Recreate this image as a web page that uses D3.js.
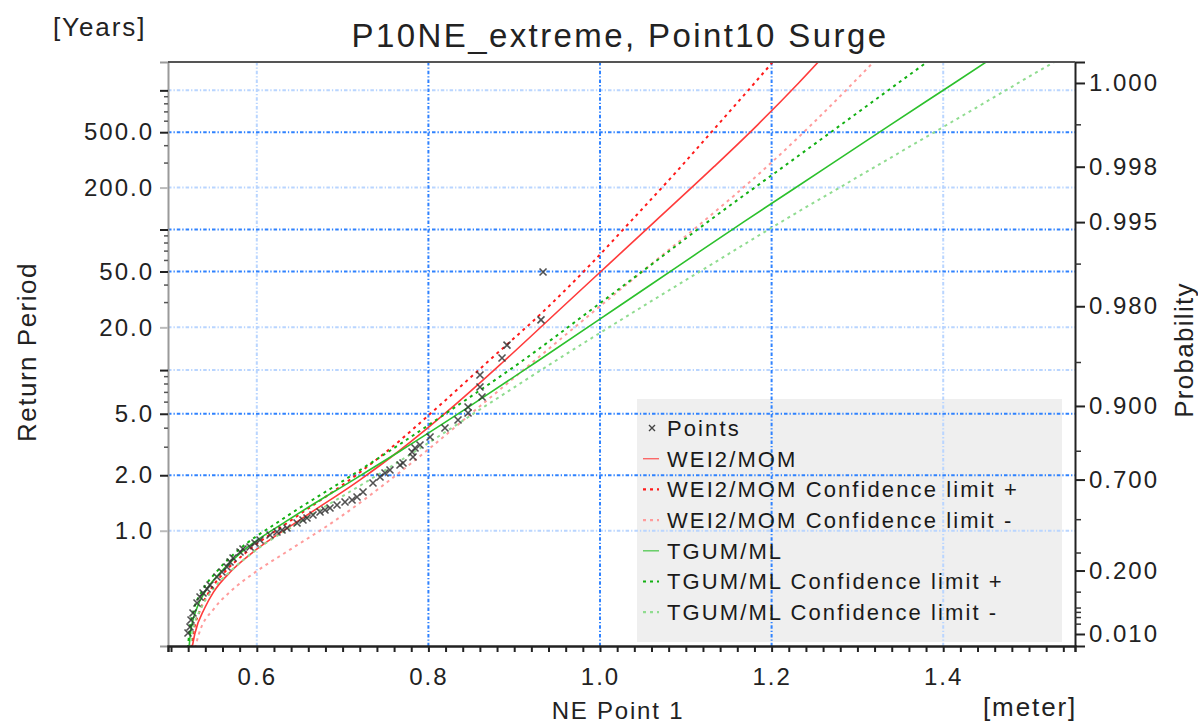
<!DOCTYPE html>
<html><head><meta charset="utf-8">
<script src="https://cdn.jsdelivr.net/npm/d3@7"></script>
<style>
html,body{margin:0;padding:0;background:#fff;}
svg{display:block;font-family:"Liberation Sans",Arial,sans-serif;}
</style></head><body>
<svg id="chart" width="1198" height="726"></svg>
<script>
// ---------------- DATA ----------------
const EVENTS_PER_YEAR = 1.77;
// non-exceedance probability levels at which the fitted curves are read
const probLevels = [0.003,0.01,0.05,0.1,0.2,0.3,0.5,0.7,0.8,0.9,0.95,0.98,0.99,0.995,0.998,0.999,0.9995,0.9998];
// x (meter) of each fitted curve at the probability levels above
const wei2Mom      = [0.5245,0.5277,0.5393,0.5495,0.5709,0.5943,0.6506,0.7207,0.7654,0.8296,0.8864,0.9572,1.0103,1.0632,1.1329,1.1837,1.2315,1.2909];
const wei2MomPlus  = [0.5233,0.5258,0.5349,0.5442,0.5642,0.5867,0.6410,0.7087,0.7517,0.8124,0.8682,0.9403,0.9894,1.0350,1.0943,1.1373,1.1802,1.2357];
const wei2MomMinus = [0.5280,0.5325,0.5507,0.5684,0.6010,0.6326,0.6928,0.7558,0.7972,0.8604,0.9212,1.0000,1.0599,1.1196,1.1945,1.2463,1.2950,1.3570];
const tgumMl       = [0.5210,0.5226,0.5302,0.5395,0.5596,0.5810,0.6373,0.7131,0.7667,0.8488,0.9249,1.0220,1.0946,1.1671,1.2650,1.3385,1.4130,1.5108];
const tgumMlPlus   = [0.5198,0.5211,0.5272,0.5355,0.5543,0.5747,0.6290,0.7029,0.7542,0.8332,0.9068,0.9953,1.0606,1.1252,1.2138,1.2808,1.3476,1.4361];
const tgumMlMinus  = [0.5221,0.5246,0.5352,0.5464,0.5702,0.5946,0.6548,0.7319,0.7848,0.8665,0.9451,1.0501,1.1305,1.2108,1.3209,1.4043,1.4875,1.5983];
// observed points: x (meter) and plotting probability
const pointX = [0.9336,0.9312,0.8916,0.8858,0.8601,0.8601,0.8625,0.8462,0.8462,0.8345,0.8019,0.7844,0.7809,0.7821,0.7704,0.7669,0.7436,0.7354,0.7238,0.7110,0.6935,0.6853,0.6655,0.6585,0.6469,0.6352,0.6235,0.6154,0.6037,0.5921,0.5804,0.5723,0.5653,0.5536,0.5455,0.5373,0.5303,0.5256,0.5221,0.5198,0.6737,0.7028,0.7552,0.5839,0.5594,0.5338,0.5979,0.6294,0.6538,0.6795,0.7168,0.7494,0.7902,0.8193,0.5688,0.5420,0.5233];
const pointP = [0.9886,0.9750,0.9623,0.9535,0.9388,0.9259,0.9132,0.8983,0.8883,0.8755,0.8384,0.8095,0.7977,0.7824,0.7626,0.7556,0.7105,0.6855,0.6452,0.6063,0.5807,0.5649,0.5265,0.5095,0.4808,0.4513,0.4273,0.4092,0.3789,0.3363,0.3061,0.2705,0.2192,0.1667,0.1293,0.0968,0.0636,0.0387,0.0166,0.0108,0.5431,0.5962,0.7375,0.3241,0.1922,0.0825,0.3606,0.4394,0.4981,0.5540,0.6212,0.7262,0.8177,0.8592,0.2473,0.1124,0.0259];
// axis ticks
const rpTicks      = [1,2,5,10,20,50,100,200,500,1000];
const rpTickLabels = ["1.0","2.0","5.0","","20.0","50.0","","200.0","500.0",""];
const rpMinorTicks = [3,4,6,7,8,9,30,40,60,70,80,90,300,400,600,700,800,900];
const rpGridStrong = [2,5,50,100,500];
const rpGridFaint  = [1,10,20,200,1000];
const rpTickFaint  = [1,20,200];
const probTicks      = [0.01,0.2,0.7,0.9,0.98,0.995,0.998,0.9995];
const probTickLabels = ["0.010","0.200","0.700","0.900","0.980","0.995","0.998","1.000"];
const probMinorTicks = [0.02,0.03,0.04,0.05,0.1,0.3,0.5,0.8,0.95,0.99,0.999];
const xMajorTicks  = [0.6,0.8,1.0,1.2,1.4];
const xGridStrong  = [0.8,1.0,1.2];
const xGridFaint   = [0.6,1.4];
const seriesNames = ["WEI2/MOM","WEI2/MOM Confidence limit +","WEI2/MOM Confidence limit -","TGUM/ML","TGUM/ML Confidence limit +","TGUM/ML Confidence limit -"];
const seriesValues = [wei2Mom,wei2MomPlus,wei2MomMinus,tgumMl,tgumMlPlus,tgumMlMinus];

// ---------------- CHART ----------------
const svg = d3.select("#chart");
const L=168,R=1075,T=62,B=646;
const gumbel = p => -Math.log(-Math.log(p));
const rpToP = t => 1 - 1/(EVENTS_PER_YEAR*t);
const x = d3.scaleLinear().domain([0.4965,1.5536]).range([L,R]);
const y = d3.scaleLinear().domain([-1.726,7.948]).range([B,T]);
const yP = p => y(gumbel(p));
const yRP = t => y(gumbel(rpToP(t)));

const styles = [
  {stroke:"#ff3b3b", w:1.6, dash:null},
  {stroke:"#ff1a1a", w:2, dash:"3,4"},
  {stroke:"#ff9c9c", w:2, dash:"3,4"},
  {stroke:"#2cc02c", w:1.6, dash:null},
  {stroke:"#12b012", w:2, dash:"3,4"},
  {stroke:"#90dc90", w:2, dash:"3,4"}
];

svg.append("defs").append("clipPath").attr("id","clip")
  .append("rect").attr("x",L).attr("y",T).attr("width",R-L).attr("height",B-T);

// legend background (grid is drawn over it)
const legX=637, legY=399, legW=425, legH=243;
svg.append("rect").attr("x",legX).attr("y",legY).attr("width",legW).attr("height",legH).attr("fill","#efefef");

// grid
const grid = svg.append("g");
const gridDash = "3.5,2,1.3,2";
const strong = "#2f82ff", faint = "#b9d5ff";
function hgrid(vals, col){
  grid.selectAll(null).data(vals).join("line")
   .attr("x1",L).attr("x2",R).attr("y1",d=>yRP(d)).attr("y2",d=>yRP(d))
   .attr("stroke",col).attr("stroke-width",2).attr("stroke-dasharray",gridDash);
}
function vgrid(vals, col){
  grid.selectAll(null).data(vals).join("line")
   .attr("y1",T).attr("y2",B).attr("x1",d=>x(d)).attr("x2",d=>x(d))
   .attr("stroke",col).attr("stroke-width",2).attr("stroke-dasharray",gridDash);
}
hgrid(rpGridFaint, faint); vgrid(xGridFaint, faint);
hgrid(rpGridStrong, strong); vgrid(xGridStrong, strong);

// curves
const plot = svg.append("g").attr("clip-path","url(#clip)");
const line = d3.line().x(d=>x(d[0])).y(d=>yP(d[1])).curve(d3.curveMonotoneX);
seriesValues.forEach((vals,i)=>{
  const pts = vals.map((v,j)=>[v,probLevels[j]]);
  plot.append("path").datum(pts).attr("d",line).attr("fill","none")
    .attr("stroke",styles[i].stroke).attr("stroke-width",styles[i].w)
    .attr("stroke-dasharray",styles[i].dash);
});
// points
const xs = 3.5;
plot.selectAll(".pt").data(pointX.map((v,i)=>[v,pointP[i]])).join("path")
  .attr("class","pt")
  .attr("d",d=>{const cx=x(d[0]),cy=yP(d[1]);return `M${cx-xs},${cy-xs}L${cx+xs},${cy+xs}M${cx-xs},${cy+xs}L${cx+xs},${cy-xs}`;})
  .attr("stroke","#333").attr("stroke-width",1.6).attr("fill","none").attr("opacity",0.85);

// axes
const tickFont = {size:"24px", ls:"2px"};
// left
const gl = svg.append("g").attr("transform",`translate(${L},0)`)
  .call(d3.axisLeft(y).tickValues(rpTicks.map(t=>gumbel(rpToP(t))))
    .tickFormat((d,i)=>rpTickLabels[i]).tickSize(8).tickPadding(6));
gl.select(".domain").attr("stroke","#9a9a9a").attr("stroke-width",2);
gl.selectAll(".tick line").attr("stroke",(d,i)=>rpTickFaint.includes(rpTicks[i]) ? "#bbbbbb":"#222").attr("stroke-width",2);
gl.selectAll("text").attr("font-size",tickFont.size).attr("letter-spacing",tickFont.ls).attr("fill","#222").attr("font-family","Liberation Sans, Arial, sans-serif");
svg.append("g").selectAll("line").data(rpMinorTicks).join("line")
  .attr("x1",L-4).attr("x2",L).attr("y1",d=>yRP(d)).attr("y2",d=>yRP(d))
  .attr("stroke","#555").attr("stroke-width",1.5);

// right
const gr = svg.append("g").attr("transform",`translate(${R},0)`)
  .call(d3.axisRight(y).tickValues(probTicks.map(gumbel))
    .tickFormat((d,i)=>probTickLabels[i]).tickSize(10).tickPadding(4));
gr.select(".domain").attr("stroke","#222").attr("stroke-width",2);
gr.selectAll(".tick line").attr("stroke","#222").attr("stroke-width",2);
gr.selectAll("text").attr("font-size",tickFont.size).attr("letter-spacing",tickFont.ls).attr("fill","#222").attr("font-family","Liberation Sans, Arial, sans-serif");
svg.append("g").selectAll("line").data(probMinorTicks).join("line")
  .attr("x1",R).attr("x2",R+6).attr("y1",d=>yP(d)).attr("y2",d=>yP(d))
  .attr("stroke","#333").attr("stroke-width",1.5);

// bottom
const gb = svg.append("g").attr("transform",`translate(0,${B})`)
  .call(d3.axisBottom(x).tickValues(d3.range(0.50,1.5401,0.02))
    .tickFormat(d=>{const m=xMajorTicks.find(v=>Math.abs(v-d)<1e-6);return m!==undefined?d3.format(".1f")(m):"";})
    .tickSize(6).tickPadding(16));
gb.select(".domain").attr("stroke","#222").attr("stroke-width",2.5);
gb.selectAll(".tick line").attr("stroke","#222").attr("stroke-width",2);
gb.selectAll("text").attr("font-size",tickFont.size).attr("letter-spacing",tickFont.ls).attr("fill","#222").attr("font-family","Liberation Sans, Arial, sans-serif");

// top frame
svg.append("line").attr("x1",L).attr("x2",R).attr("y1",T).attr("y2",T).attr("stroke","#555").attr("stroke-width",2);

// legend content
const leg = svg.append("g").attr("font-size","22px").attr("letter-spacing","2.1px").attr("fill","#1a1a1a");
const rowY = i => 428 + i*30.7;
leg.append("path").attr("d",`M${649},${rowY(0)-3}L${655},${rowY(0)+3}M${649},${rowY(0)+3}L${655},${rowY(0)-3}`)
  .attr("stroke","#444").attr("stroke-width",1.4);
leg.append("text").attr("x",667).attr("y",rowY(0)).attr("dy","0.36em").text("Points");
seriesNames.forEach((n,i)=>{
  const yy=rowY(i+1);
  leg.append("line").attr("x1",643).attr("x2",659).attr("y1",yy).attr("y2",yy)
    .attr("stroke",styles[i].stroke).attr("stroke-width",styles[i].dash?2.2:1.4)
    .attr("stroke-dasharray",styles[i].dash?"3,4":null).attr("opacity",styles[i].dash?1:0.75);
  leg.append("text").attr("x",667).attr("y",yy).attr("dy","0.36em").text(n);
});

// titles
svg.append("text").attr("x",620).attr("y",47).attr("text-anchor","middle")
  .attr("font-size","33px").attr("letter-spacing","2.4px").attr("fill","#222")
  .text("P10NE_extreme, Point10 Surge");
svg.append("text").attr("x",53).attr("y",36).attr("font-size","26px").attr("letter-spacing","1.9px").attr("fill","#222").text("[Years]");
svg.append("text").attr("transform","translate(36,352) rotate(-90)").attr("text-anchor","middle")
  .attr("font-size","26px").attr("letter-spacing","1.5px").attr("fill","#222").text("Return Period");
svg.append("text").attr("transform","translate(1193,350) rotate(-90)").attr("text-anchor","middle")
  .attr("font-size","26px").attr("letter-spacing","1.3px").attr("fill","#222").text("Probability");
svg.append("text").attr("x",618).attr("y",719).attr("text-anchor","middle")
  .attr("font-size","24px").attr("letter-spacing","1.8px").attr("fill","#222").text("NE Point 1");
svg.append("text").attr("x",983).attr("y",716)
  .attr("font-size","26px").attr("letter-spacing","1.9px").attr("fill","#222").text("[meter]");
</script>
</body></html>
